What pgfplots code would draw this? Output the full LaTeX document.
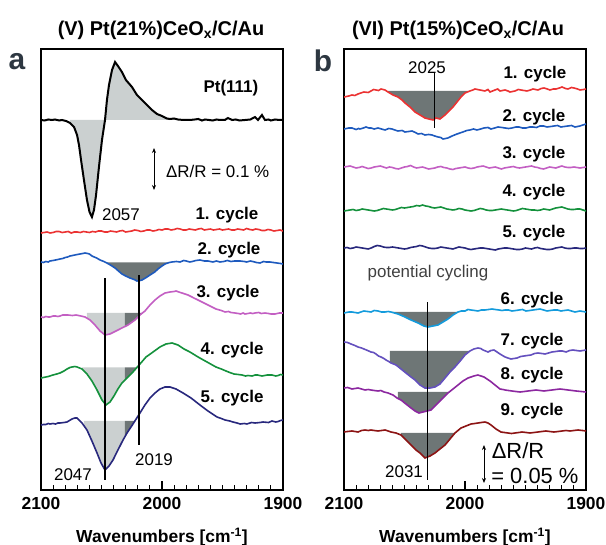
\documentclass[border=0pt]{standalone}
\usepackage{fontspec}
\setmainfont{Liberation Sans}
\usepackage{pgfplots}
\pgfplotsset{compat=1.18}
\usetikzlibrary{arrows.meta}
\definecolor{cred}{RGB}{235,50,50}
\definecolor{cblue}{RGB}{30,90,190}
\definecolor{corchid}{RGB}{195,95,195}
\definecolor{cgreen}{RGB}{20,145,60}
\definecolor{cnavy}{RGB}{40,40,125}
\definecolor{clblue}{RGB}{20,155,220}
\definecolor{cslate}{RGB}{100,80,190}
\definecolor{cpurple}{RGB}{140,40,160}
\definecolor{cdred}{RGB}{140,20,20}
\definecolor{flight}{RGB}{203,208,208}
\definecolor{fdark}{RGB}{110,118,118}
\definecolor{labgray}{RGB}{45,55,65}
\newcommand\lbl{\bfseries\fontsize{17}{20}\selectfont}
\newcommand\reg{\fontsize{17}{20}\selectfont}
\pgfplotsset{
  myax/.style={
    anchor=south west, width=242bp, height=441bp, scale only axis,
    xmin=1900, xmax=2100, x dir=reverse, ymin=0, ymax=441,
    ytick=\empty, xtick={1900,2000,2100},
    xtick pos=left, xtick align=inside,
    major tick length=9bp, minor tick length=5bp,
    axis line style={line width=1.2bp},
    xtick style={draw=black, line width=1.1bp},
    /pgf/number format/1000 sep={},
    /pgf/number format/assume math mode=true,
    xticklabel style={font=\bfseries\fontsize{17.5}{20}\selectfont},
    xticklabel shift=4bp,
    xlabel={Wavenumbers [cm\textsuperscript{-1}]},
    xlabel style={font=\bfseries\fontsize{17.5}{20}\selectfont, at={(axis description cs:0.5,0)}, anchor=center, yshift=-47bp},
  },
  cv/.style={line width=1.6bp},
  tk/.style={ycomb, black, line width=1bp, mark=none},
}
\begin{document}
\begin{tikzpicture}
\path[use as bounding box] (0bp,0bp) rectangle (606bp,545bp);
% ---------------- panel a ----------------
\begin{axis}[myax, at={(41bp,55bp)}]
\addplot[tk] coordinates {(1910,5) (1920,5) (1930,5) (1940,5) (1950,5) (1960,5) (1970,5) (1980,5) (1990,5) (2000,9) (2010,5) (2020,5) (2030,5) (2040,5) (2050,5) (2060,5) (2070,5) (2080,5) (2090,5)};
% Pt(111)
\addplot[fill=flight, draw=none] coordinates {(2076,370) (2076,367) (2072.7,363) (2070.2,355) (2068.6,345) (2066.9,330) (2064.5,310) (2062,290) (2059.9,278) (2057.9,273) (2056.2,280) (2054.5,295) (2052.1,323) (2049.6,350) (2047.1,370) (2045.5,390) (2043.8,405) (2041.3,420) (2038.8,428) (2036.4,424) (2033.1,418) (2029.8,410) (2024.8,403) (2020.7,395) (2016.5,390) (2012.4,385) (2008.3,380) (2004.1,376) (2000,374) (1993.4,371) (1986.8,370.5) (1986.8,370)};
\addplot[black, line width=2bp] coordinates {
(2100,370) (2097,369.5) (2094,370.5) (2091,370) (2088.4,370.5) (2085,369.5) (2082.6,370) (2079.3,369) (2076,367) (2072.7,363) (2070.2,355) (2068.6,345) (2066.9,330) (2064.5,310) (2062,290) (2059.9,278) (2057.9,273) (2056.2,280) (2054.5,295) (2052.1,323) (2049.6,350) (2047.1,370) (2045.5,390) (2043.8,405) (2041.3,420) (2038.8,428) (2036.4,424) (2033.1,418) (2029.8,410) (2024.8,403) (2020.7,395) (2016.5,390) (2012.4,385) (2008.3,380) (2004.1,376) (2000,374) (1996,371.5) (1993.4,371) (1990,371.5) (1986.8,370.5) (1982,370) (1976.9,370) (1973,370.5) (1970,371) (1967,369.5) (1964.5,370.5) (1961,370) (1958,369.5) (1955,370.5) (1952.1,370) (1948,370) (1945.5,372) (1942.1,370) (1939,370.5) (1936,369.5) (1931.4,370) (1927,370.5) (1923.1,373) (1920.7,370) (1917.4,375) (1914.9,370) (1912,370.5) (1910,369.5) (1906.6,370.5) (1903,370) (1900,370)};
% cycle 1
\addplot[cred, cv] coordinates {
(2100,257) (2097.5,257.5) (2095,258) (2092.5,257) (2090,257.5) (2087.5,258.5) (2085,258.5) (2082.5,257.5) (2080,258) (2077.5,258.5) (2075,257) (2072.5,258) (2070,258) (2067.5,257.5) (2065,258.5) (2062.5,258) (2060,257.5) (2057.5,258.5) (2055,258) (2052.5,259) (2050,259) (2047.5,258) (2045,258) (2042.5,259) (2040,258.5) (2037.5,258) (2035,259) (2032.5,259.5) (2030,258) (2027.5,258.5) (2025,259) (2022.5,260) (2020,259.5) (2017.5,258.5) (2015,259) (2012.5,260) (2010,260) (2007.5,259) (2005,259.5) (2002.5,260.5) (2000,260) (1997.5,261) (1995,261) (1992.5,260) (1990,260.5) (1987.5,261.5) (1985,261) (1982.5,260) (1980,260) (1977.5,261) (1975,260.5) (1972.5,260) (1970,261) (1967.5,261.5) (1965,260) (1962.5,260.5) (1960,261) (1957.5,260) (1955,260.5) (1952.5,261) (1950,260) (1947.5,260.5) (1945,261) (1942.5,260) (1940,260) (1937.5,261) (1935,260.5) (1932.5,260) (1930,261.5) (1927.5,260.5) (1925,260) (1922.5,261) (1920,260.5) (1917.5,259.5) (1915,259.5) (1912.5,260.5) (1910,260) (1907.5,259) (1905,259.5) (1902.5,260) (1900,259)};
% cycle 2
\addplot[fill=fdark, draw=none] coordinates {(2046,227.5) (2045.5,227) (2042,224.5) (2038.8,222) (2036,219) (2033.1,216) (2030,214) (2026.5,212) (2023,210.5) (2020.7,209) (2018,209.5) (2016.5,210) (2013,212.5) (2009.9,215) (2006,218) (2003.3,221) (2000,224) (1997.5,226) (1995,227.5)};
\addplot[cblue, cv] coordinates {
(2100,228) (2098,227.5) (2096,228.5) (2094,228) (2092.6,229) (2090,229.5) (2088,230) (2086,230.5) (2084.3,231) (2082,231.5) (2080,232.5) (2078,233) (2076,234) (2074,234.5) (2072,235) (2070,235.5) (2067.8,236) (2065.5,236.5) (2063.6,237) (2061.5,236.5) (2060,236) (2057.9,234) (2056,233) (2054,232) (2051.2,230) (2048,228.5) (2045.5,227) (2042,224.5) (2038.8,222) (2036,219) (2033.1,216) (2030,214) (2026.5,212) (2023,210.5) (2020.7,209) (2018,209.5) (2016.5,210) (2013,212.5) (2009.9,215) (2006,218) (2003.3,221) (2000,224) (1997.5,226) (1994,227.5) (1991.7,228) (1988,228.5) (1985.1,228) (1982,229.5) (1980,229) (1977,228) (1975,228.5) (1972,229.5) (1968.6,230) (1965,229) (1962,229) (1958,228) (1955,229) (1952.1,228) (1949,228.5) (1946,229.5) (1943,228.5) (1940,229) (1935.5,229) (1932,228.5) (1930,228) (1927,229) (1925,228.5) (1922,227.5) (1919,227) (1916,228.5) (1914,228) (1910.7,228) (1908,227.5) (1905,227) (1902,226.5) (1900,226)};
% cycle 3
\addplot[fill=flight, draw=none] coordinates {(2062,177) (2062,172) (2059.5,170) (2055.4,165) (2051.2,159) (2047.1,155) (2043,156) (2038,159) (2033.1,162) (2030.6,163.5) (2030.6,177)};
\addplot[fill=fdark, draw=none] coordinates {(2030.6,177) (2030.6,163.5) (2028.1,165) (2022.3,170) (2018.2,175) (2016.2,177)};
\addplot[corchid, cv] coordinates {
(2100,173) (2098,172.5) (2096,173.5) (2094,173) (2092.6,173) (2090,174) (2088,174) (2086,173.5) (2084.3,174) (2082,175) (2080,175) (2077.7,175) (2074,174.5) (2071.1,175) (2069,174.5) (2067,174) (2063.6,173) (2059.5,170) (2055.4,165) (2051.2,159) (2047.1,155) (2043,156) (2038,159) (2033.1,162) (2028.1,165) (2022.3,170) (2018.2,175) (2014.1,179) (2009.9,185) (2005.8,190) (2001.7,194) (1997.5,197) (1993.4,198) (1990,198.5) (1988.4,199) (1986,198) (1983.5,197) (1978.5,195) (1973.6,192) (1968.6,189) (1962,185) (1955.4,181) (1951,179.5) (1947.9,178) (1945,178.5) (1943,177.5) (1939.7,177) (1937,176.5) (1935,176) (1933,177) (1931.4,176) (1929,176.5) (1927,177) (1925,176.5) (1923.1,177) (1920,177.5) (1918,176.5) (1914.9,177) (1912,176.5) (1910,176) (1906.6,176) (1903,177) (1900,177)};
% cycle 4
\addplot[fill=flight, draw=none] coordinates {(2066,122.5) (2066.1,121) (2062,116) (2057.9,109) (2053.7,100) (2049.6,90) (2046.3,85) (2043,88) (2039.7,94) (2036.4,101) (2033.1,107) (2030.6,110) (2030.6,122.5)};
\addplot[fill=fdark, draw=none] coordinates {(2030.6,122.5) (2030.6,110) (2028.9,112) (2024,118) (2020.6,122.5)};
\addplot[cgreen, cv] coordinates {
(2100,112) (2098,112.5) (2096,113) (2094,113.5) (2092.6,114) (2090.1,115) (2087,116) (2084.3,117) (2081,119) (2078.5,121) (2076,122.5) (2074.4,123) (2072,123.5) (2070.2,123) (2066.1,121) (2062,116) (2057.9,109) (2053.7,100) (2049.6,90) (2046.3,85) (2043,88) (2039.7,94) (2036.4,101) (2033.1,107) (2028.9,112) (2024,118) (2018.2,126) (2013.2,133) (2007.4,138) (2001.7,143) (1996.7,146) (1991.7,147) (1986.8,145) (1981.8,141) (1976.9,138) (1970.2,133) (1962.8,128) (1955.4,123) (1951,121) (1947.1,119) (1944,117.5) (1940.5,116) (1937,115.5) (1933.9,115) (1931,114) (1929,114.5) (1925.6,114) (1923,115) (1921,115) (1917.4,114) (1915,114.5) (1913,115) (1909.1,115) (1906,114) (1904,114.5) (1902,115.5) (1900,115)};
% cycle 5
\addplot[fill=flight, draw=none] coordinates {(2064.5,69) (2064.5,64) (2062,60) (2057.9,49) (2053.7,37) (2050.4,27) (2047.1,20) (2043.8,24) (2040.5,30) (2036.4,40) (2032.2,50) (2030.6,53.5) (2030.6,69)};
\addplot[fill=fdark, draw=none] coordinates {(2030.6,69) (2030.6,53.5) (2028.9,57) (2024,66) (2022.4,69)};
\addplot[cnavy, cv] coordinates {
(2100,65) (2098,65.5) (2096,65.5) (2094,66.5) (2092.6,66) (2090,66.5) (2088,66) (2086,67) (2084.3,67) (2081,67.5) (2078.5,68) (2074.4,71) (2072,72) (2070.2,72) (2066.1,67) (2062,60) (2057.9,49) (2053.7,37) (2050.4,27) (2047.1,20) (2043.8,24) (2040.5,30) (2036.4,40) (2032.2,50) (2028.9,57) (2024,66) (2018.2,77) (2014.1,85) (2009.9,92) (2005.8,97) (2001.7,101) (1997.5,103) (1993.4,103) (1988.4,101) (1982.6,97) (1976,92) (1968.6,85) (1962,79) (1954.5,73) (1951,71.5) (1947.9,70) (1944,69) (1941.3,68) (1938,67) (1935.5,66) (1932,66.5) (1929.8,66) (1926,67.5) (1923.1,67) (1919,67.5) (1916.5,68) (1912,67.5) (1909.1,69) (1906,68) (1904,68.5) (1902,69.5) (1900,70)};
% markers
\addplot[black, line width=1.3bp] coordinates {(2047,10) (2047,212)};
\addplot[black, line width=1.3bp] coordinates {(2019,45) (2019,215)};
\draw[black, line width=0.8bp, {Stealth[length=5bp,width=4bp]}-{Stealth[length=5bp,width=4bp]}] (axis cs:2006.6,300) -- (axis cs:2006.6,342);
\node[font=\lbl] at (axis cs:1943,402) {Pt(111)};
\node[font=\lbl] at (axis cs:1946.3,275) {1. cycle};
\node[font=\lbl] at (axis cs:1944.6,240) {2. cycle};
\node[font=\lbl] at (axis cs:1945.5,197) {3. cycle};
\node[font=\lbl] at (axis cs:1942.1,140) {4. cycle};
\node[font=\lbl] at (axis cs:1942.1,92) {5. cycle};
\node[font=\reg] at (axis cs:2033.9,275) {2057};
\node[font=\reg] at (axis cs:2073.6,15) {2047};
\node[font=\reg] at (axis cs:2006.6,30) {2019};
\node[font=\reg, anchor=west] at (axis cs:1999.5,319) {ΔR/R = 0.1 \%};
\end{axis}
% ---------------- panel b ----------------
\begin{axis}[myax, at={(344bp,55bp)}]
\addplot[tk] coordinates {(1910,5) (1920,5) (1930,5) (1940,5) (1950,5) (1960,5) (1970,5) (1980,5) (1990,5) (2000,9) (2010,5) (2020,5) (2030,5) (2040,5) (2050,5) (2060,5) (2070,5) (2080,5) (2090,5)};
% cycle 1
\addplot[fill=fdark, draw=none] coordinates {(2063.6,399) (2063.6,398) (2059.5,395) (2055.4,393) (2052.1,390) (2049.6,387) (2045.5,383) (2041.3,378) (2037.2,375) (2033.1,372) (2029.8,371) (2026.4,370) (2024,372) (2020.7,371) (2016.5,375) (2013.2,379) (2009.9,383) (2006.6,388) (2003.3,393) (2000,397) (1997,399)};
\addplot[cred, cv] coordinates {
(2100,393) (2098,393.5) (2096,394) (2093.4,395) (2091,394.5) (2088.4,396) (2086,397) (2083.5,398) (2080,397.5) (2077.7,399) (2075.5,400.5) (2073.6,400) (2071.5,399.5) (2069.4,401) (2066.1,400) (2063.6,398) (2059.5,395) (2055.4,393) (2052.1,390) (2049.6,387) (2045.5,383) (2041.3,378) (2037.2,375) (2033.1,372) (2029.8,371) (2026.4,370) (2024,372) (2020.7,371) (2016.5,375) (2013.2,379) (2009.9,383) (2006.6,388) (2003.3,393) (2000,397) (1995.9,399) (1993.5,400) (1991.7,401) (1987.6,400) (1983.5,399) (1981,400.5) (1979.3,398) (1975.2,400) (1973,401) (1971.1,399) (1966.9,400) (1964.5,399) (1962.8,398) (1958.7,399) (1956,400.5) (1953.7,400) (1948.8,399) (1946,400) (1943.8,401) (1939.7,400) (1937,401.5) (1934.7,402) (1932,401) (1929.8,400) (1927,401) (1924.8,401) (1922,402) (1919.8,403) (1917,401.5) (1914.9,401) (1912,402.5) (1909.9,402) (1907,401) (1904.9,400) (1902,400.5) (1900,401)};
% cycle 2
\addplot[cblue, cv] coordinates {
(2100,361) (2098,361.5) (2096,362) (2093.4,362) (2090,360.5) (2088,361.5) (2086.8,361) (2084,362) (2081.8,363) (2079.5,362) (2077.7,362) (2075,361) (2071.9,362) (2069,361) (2066.1,360) (2063,361.5) (2060.3,361) (2058,360) (2055.4,359) (2052,359.5) (2049.6,358) (2046.5,358.5) (2043.8,359) (2041,357.5) (2038.8,356) (2036,356.5) (2033.1,355) (2030,355.5) (2027.3,355) (2025,354) (2022.3,353) (2020,352.5) (2018.2,351) (2016,351.5) (2014.1,352) (2010.7,354) (2006.6,356) (2001.7,358) (1998.5,359.5) (1995.9,360) (1993,361) (1990.1,360) (1987,361) (1984.3,362) (1981,362.5) (1978.5,361) (1975.5,362) (1972.7,363) (1969.5,362.5) (1966.9,362) (1964,361.5) (1961.2,362) (1958,363) (1955.4,363) (1952.5,362) (1949.6,362) (1946.5,363) (1943.8,363) (1941,362.5) (1938,364) (1935,364) (1932.2,363) (1929,363.5) (1926.5,364) (1923.5,364.5) (1920.7,363) (1918,363.5) (1914.9,364) (1912,364.5) (1909.1,363) (1907,363.5) (1905,364) (1902.5,365) (1900,366)};
% cycle 3
\addplot[corchid, cv] coordinates {
(2100,323) (2097.5,323.5) (2095,324) (2092.5,323) (2090,322) (2087.5,322.5) (2085,323.5) (2082.5,322.5) (2080,321.5) (2077.5,322) (2075,323) (2072.5,323.5) (2070,324) (2067.5,323) (2065,322) (2062.5,323) (2060,322.5) (2057.5,321.5) (2055,321) (2052.5,322) (2050,323) (2047.5,323.5) (2045,324.5) (2042.5,323) (2040,322) (2037.5,322.5) (2035,323) (2032.5,322) (2030,321) (2027.5,321.5) (2025,322) (2022.5,323) (2020,323.5) (2017.5,322.5) (2015,322) (2012.5,321) (2010,320.5) (2007.5,321.5) (2005,322) (2002.5,322.5) (2000,323) (1997.5,322) (1995,321.5) (1992.5,322) (1990,323) (1987.5,323.5) (1985,324) (1982.5,323) (1980,322) (1977.5,322.5) (1975,323) (1972.5,322) (1970,321) (1967.5,322) (1965,322.5) (1962.5,323) (1960,323.5) (1957.5,322.5) (1955,322) (1952.5,322.5) (1950,323) (1947.5,323.5) (1945,324) (1942.5,323) (1940,322.5) (1937.5,321.5) (1935,321) (1932.5,322) (1930,323) (1927.5,322.5) (1925,322) (1922.5,323) (1920,324) (1917.5,323) (1915,322.5) (1912.5,322.5) (1910,323) (1907.5,322.5) (1905,322) (1902.5,322.5) (1900,323)};
% cycle 4
\addplot[cgreen, cv] coordinates {
(2100,279) (2097.5,279.5) (2095,280) (2092.5,280.5) (2090,279.5) (2087.5,280) (2085,281) (2082.5,280.5) (2080,280) (2077.5,279.5) (2075,279) (2072.5,279.5) (2070,280.5) (2067.5,281.5) (2065,281) (2062.5,280.5) (2060,280) (2057.5,280.5) (2055,281.5) (2052.5,282.5) (2050,282) (2047.5,282.5) (2045,283) (2042.5,283.5) (2040,284.5) (2037.5,284) (2035,285) (2032.5,284) (2030,283.5) (2027.5,282.5) (2025,282) (2022.5,282.5) (2020,283) (2017.5,282) (2015,281) (2012.5,280.5) (2010,280) (2007.5,280.5) (2005,281.5) (2002.5,281) (2000,280) (1997.5,279.5) (1995,279) (1992.5,279.5) (1990,280.5) (1987.5,281.5) (1985,281) (1982.5,280) (1980,279.5) (1977.5,279.5) (1975,280) (1972.5,280.5) (1970,281) (1967.5,280.5) (1965,280) (1962.5,279.5) (1960,279) (1957.5,279.5) (1955,280.5) (1952.5,281.5) (1950,281) (1947.5,280.5) (1945,280) (1942.5,280) (1940,279.5) (1937.5,280) (1935,281) (1932.5,280.5) (1930,280) (1927.5,281) (1925,282) (1922.5,282.5) (1920,283) (1917.5,282) (1915,281) (1912.5,280.5) (1910,280.5) (1907.5,281) (1905,281) (1902.5,280) (1900,279)};
% cycle 5
\addplot[cnavy, cv] coordinates {
(2100,242) (2097.5,242.5) (2095,241.5) (2092.5,242) (2090,243) (2087.5,242.5) (2085,242) (2082.5,241.5) (2080,241) (2077.5,242) (2075,243.5) (2072.5,244.5) (2070,244) (2067.5,243) (2065,242.5) (2062.5,242.5) (2060,243) (2057.5,242.5) (2055,242) (2052.5,241.5) (2050,241) (2047.5,241.5) (2045,242.5) (2042.5,243) (2040,243.5) (2037.5,244.5) (2035,244) (2032.5,243) (2030,242) (2027.5,241.5) (2025,241.5) (2022.5,242) (2020,243) (2017.5,242.5) (2015,242) (2012.5,241.5) (2010,241) (2007.5,242) (2005,243) (2002.5,242.5) (2000,242) (1997.5,241) (1995,240.5) (1992.5,241) (1990,241.5) (1987.5,242) (1985,242) (1982.5,241.5) (1980,241) (1977.5,240.5) (1975,240) (1972.5,241) (1970,241.5) (1967.5,242) (1965,242) (1962.5,241.5) (1960,241) (1957.5,240.5) (1955,240.5) (1952.5,241) (1950,242) (1947.5,241.5) (1945,241) (1942.5,242) (1940,242.5) (1937.5,241.5) (1935,241) (1932.5,240.5) (1930,240.5) (1927.5,241) (1925,242) (1922.5,242.5) (1920,243) (1917.5,242) (1915,241.5) (1912.5,241.5) (1910,242) (1907.5,242) (1905,241.5) (1902.5,241.5) (1900,242)};
% cycle 6
\addplot[fill=fdark, draw=none] coordinates {(2061.2,178) (2055.4,176) (2049.6,173) (2044.6,170) (2038.8,167) (2033.9,164) (2030.6,163) (2026.4,164) (2022.3,165) (2018.2,168) (2014.1,171) (2009.9,175) (2005.8,178)};
\addplot[clblue, cv] coordinates {
(2100,177) (2098,177.5) (2096,178) (2093.4,178) (2091,177.5) (2088.4,177) (2086,178) (2083.5,179) (2080.5,178.5) (2077.7,178) (2075,179.5) (2071.9,179) (2069,178) (2066.1,178) (2063.5,178.5) (2061.2,178) (2055.4,176) (2049.6,173) (2044.6,170) (2038.8,167) (2033.9,164) (2030.6,163) (2026.4,164) (2022.3,165) (2018.2,168) (2014.1,171) (2009.9,175) (2005.8,178) (2003,179) (2000,179) (1997.5,180.5) (1995,180) (1992,179.5) (1989.3,179) (1986.5,180) (1983.5,180) (1980.5,180.5) (1977.7,181) (1975,180.5) (1971.9,180) (1969.5,179.5) (1966.9,180) (1964,180) (1961.2,179) (1958,179.5) (1955.4,180) (1952.5,180.5) (1949.6,179) (1946.5,179.5) (1943.8,180) (1941,180.5) (1938,181) (1935,180) (1932.2,179) (1929.5,179.5) (1926.5,180) (1923.5,180) (1920.7,179) (1918,179.5) (1914.9,180) (1912,179) (1909.1,178) (1907,178.5) (1905,179) (1902.5,178.5) (1900,178)};
% cycle 7
\addplot[fill=fdark, draw=none] coordinates {(2062,139) (2062,127.5) (2061.2,127) (2057,125) (2052.9,121) (2048.8,117) (2044.6,113) (2041.3,110) (2037.2,105) (2033.1,102) (2028.9,102) (2024.8,103) (2020.7,106) (2016.5,112) (2012.4,118) (2008.3,123) (2003.3,130) (2000,135) (1995.9,139)};
\addplot[cslate, cv] coordinates {
(2100,148) (2097,147.5) (2094.2,146) (2091,144.5) (2088.4,143) (2085.5,142) (2083.5,141) (2080.5,139.5) (2077.7,138) (2075.5,137.5) (2073.6,136) (2071.5,134) (2069.4,133) (2067,131.5) (2065.3,130) (2063,128.5) (2061.2,127) (2059,126) (2057,125) (2054.9,123) (2052.9,121) (2048.8,117) (2044.6,113) (2041.3,110) (2037.2,105) (2033.1,102) (2028.9,102) (2024.8,103) (2020.7,106) (2016.5,112) (2012.4,118) (2008.3,123) (2003.3,130) (2000,135) (1995.9,139) (1992.6,141) (1989.3,142) (1987,141.5) (1985.1,140) (1983,139) (1981,138) (1978.5,139.5) (1976,140) (1973.5,138) (1971.1,136) (1969,134.5) (1966.9,133) (1964.5,132) (1962,131) (1959.5,131.5) (1957,132) (1954,133.5) (1951.3,134) (1948.5,134.5) (1945.5,135) (1942.5,136.5) (1939.7,137) (1936.5,136.5) (1933.9,136) (1931,137) (1928.1,138) (1925,138.5) (1922.3,139) (1919.5,139) (1916.5,138) (1913.5,139.5) (1910.8,140) (1908,139.5) (1905,139) (1902.5,139.5) (1900,140)};
% cycle 8
\addplot[fill=fdark, draw=none] coordinates {(2055.4,98) (2055.4,91.5) (2052.9,90) (2048.8,86) (2044.6,82) (2041.3,79) (2038,77) (2034.7,78) (2031.4,79) (2028.1,80) (2024.8,84) (2022.3,87) (2018.2,92) (2014.1,97) (2014.1,98)};
\addplot[cpurple, cv] coordinates {
(2100,102) (2097,102.5) (2093.4,101) (2091,101.5) (2088.4,102) (2085.5,101) (2082.6,100) (2080,100.5) (2077.7,100) (2075,99.5) (2071.9,99) (2069.5,99.5) (2066.9,98) (2063.6,97) (2059.5,95) (2056.2,92) (2052.9,90) (2048.8,86) (2044.6,82) (2041.3,79) (2038,77) (2034.7,78) (2031.4,79) (2028.1,80) (2024.8,84) (2022.3,87) (2018.2,92) (2014.1,97) (2009.9,101) (2005.8,105) (2001.7,109) (1997.5,112) (1992.6,114) (1989.3,115) (1984.3,113) (1979.3,109) (1975.2,105) (1971.1,101) (1968.5,100.5) (1966.9,100) (1964,99.5) (1961.2,99) (1958,98.5) (1954.5,98) (1951,98.5) (1947.9,99) (1944.5,99.5) (1941.3,100) (1938,99.5) (1934.7,99) (1931.5,99.5) (1928.1,100) (1925,100.5) (1921.5,101) (1918,100.5) (1914.9,100) (1911.5,99.5) (1908.3,99) (1904,98.5) (1900,98)};
% cycle 9
\addplot[fill=fdark, draw=none] coordinates {(2052.9,57) (2052.9,55) (2048.8,50) (2044.6,45) (2040.5,40) (2037.2,37) (2033.1,32) (2028.9,34) (2024.8,37) (2020.7,41) (2016.5,45) (2012.4,51) (2008.3,57)};
\addplot[cdred, cv] coordinates {
(2100,58) (2097,58.5) (2093.4,59) (2091,58.5) (2088.4,58) (2085.5,59.5) (2082.6,60) (2080,59.5) (2077.7,60) (2075,59.5) (2071.9,59) (2069,59.5) (2066.1,60) (2063.5,59) (2061.2,58) (2057,57) (2052.9,55) (2048.8,50) (2044.6,45) (2040.5,40) (2037.2,37) (2033.1,32) (2028.9,34) (2024.8,37) (2020.7,41) (2016.5,45) (2012.4,51) (2008.3,57) (2003.3,62) (1999.2,64) (1995,66) (1992,66.5) (1989.3,67) (1986.5,67.5) (1983.5,68) (1981,67) (1978.5,65) (1974.4,61) (1970.3,58) (1967.5,57.5) (1964.5,57) (1961.5,56.5) (1958.7,57) (1955.5,57.5) (1952.9,58) (1949.5,57.5) (1946.3,57) (1943,57.5) (1939.7,58) (1936.5,58.5) (1933.1,59) (1930,58.5) (1926.5,58) (1923,58.5) (1919.8,59) (1916.5,59.5) (1913.2,59) (1910,59.5) (1906.6,60) (1903,59.5) (1900,59)};
% markers
\addplot[black, line width=1.3bp] coordinates {(2025,362) (2025,417)};
\addplot[black, line width=1.3bp] coordinates {(2031,10) (2031,188)};
\draw[black, line width=0.8bp, {Stealth[length=5bp,width=4bp]}-{Stealth[length=5bp,width=4bp]}] (axis cs:1984.3,7) -- (axis cs:1984.3,45);
\node[font=\reg] at (axis cs:2031.4,422) {2025};
\node[font=\lbl] at (axis cs:1942.2,416) {1. cycle};
\node[font=\lbl] at (axis cs:1943,373) {2. cycle};
\node[font=\lbl] at (axis cs:1943,336) {3. cycle};
\node[font=\lbl] at (axis cs:1943,298) {4. cycle};
\node[font=\lbl] at (axis cs:1943,257) {5. cycle};
\node[font=\reg, text=black!75] at (axis cs:2030.6,217) {potential cycling};
\node[font=\lbl] at (axis cs:1944.6,190) {6. cycle};
\node[font=\lbl] at (axis cs:1944.6,149) {7. cycle};
\node[font=\lbl] at (axis cs:1944.6,115) {8. cycle};
\node[font=\lbl] at (axis cs:1944.6,79) {9. cycle};
\node[font=\reg] at (axis cs:2050.4,18) {2031};
\node[font=\fontsize{22}{26}\selectfont] at (axis cs:1956.2,39) {ΔR/R};
\node[font=\fontsize{22}{26}\selectfont] at (axis cs:1942.2,14) {= 0.05 \%};
\end{axis}
% titles and panel letters
\node[font=\bfseries\fontsize{20}{24}\selectfont] at (161bp,515bp) {(V) Pt(21\%)CeO\textsubscript{x}/C/Au};
\node[font=\bfseries\fontsize{20}{24}\selectfont] at (458bp,515bp) {(VI) Pt(15\%)CeO\textsubscript{x}/C/Au};
\node[font=\bfseries\fontsize{30}{34}\selectfont, text=labgray] at (17bp,483bp) {a};
\node[font=\bfseries\fontsize{30}{34}\selectfont, text=labgray] at (323bp,484bp) {b};
\end{tikzpicture}
\end{document}
